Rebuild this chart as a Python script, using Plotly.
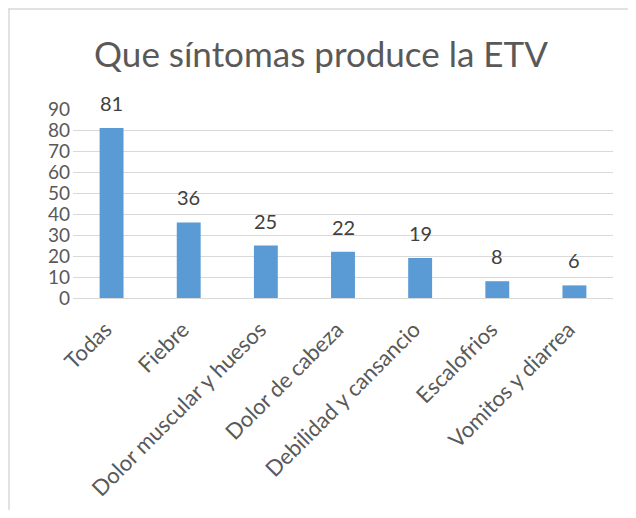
import plotly.graph_objects as go

categories = ["Todas", "Fiebre", "Dolor muscular y huesos", "Dolor de cabeza",
              "Debilidad y cansancio", "Escalofrios", "Vomitos y diarrea"]
values = [81, 36, 25, 22, 19, 8, 6]
y_ticks = [0, 10, 20, 30, 40, 50, 60, 70, 80, 90]
title_text = "Que síntomas produce la ETV"

FONT = "Lato, Open Sans, sans-serif"

fig = go.Figure(go.Bar(
    x=categories, y=values,
    marker=dict(color="#5B9BD5", line=dict(width=0)),
    width=0.31,
))

for c, v in zip(categories, values):
    fig.add_annotation(x=c, y=v, text=str(v), showarrow=False,
                       xanchor="center", yanchor="middle", yshift=25,
                       font=dict(family=FONT, size=20, color="#404040"))

# page body has an 8px default margin on every side: the figure is shrunk and
# shifted so that the page does not overflow the window
OFF = 8
W, H = 636 - 2 * OFF, 518 - 2 * OFF
L, T = 73 - OFF, 109 - OFF
R = W - (613 - OFF)
B = H - (298 - OFF)
pw, ph = W - L - R, H - T - B

fig.update_layout(
    width=W, height=H,
    margin=dict(l=L, r=R, t=T, b=B, pad=0, autoexpand=False),
    paper_bgcolor="white", plot_bgcolor="white",
    showlegend=False,
    title=dict(text=title_text, x=(321 - OFF) / W, xref="container", xanchor="center",
               y=1 - (55 - OFF) / H, yref="container", yanchor="middle",
               font=dict(family=FONT, size=35, color="#595959")),
    xaxis=dict(tickangle=-45, tickfont=dict(family=FONT, size=22, color="#595959"),
               showline=True, linecolor="#D9D9D9", linewidth=1, ticks="",
               ticklabelstandoff=9, ticklabelshift=-6,
               showgrid=False, automargin=False),
    yaxis=dict(range=[0, 90], tickvals=y_ticks, ticks="", showline=False,
               tickfont=dict(family=FONT, size=19, color="#595959"),
               ticklabelstandoff=2,
               gridcolor="#D9D9D9", gridwidth=1, zeroline=False, automargin=False),
    shapes=[
        dict(type="line", xref="paper", yref="paper",
             x0=(0 - L) / pw, x1=(W + 5 - L) / pw,
             y0=(H - B - 1) / ph, y1=(H - B - 1) / ph,
             line=dict(color="#D9D9D9", width=1.5)),
        dict(type="line", xref="paper", yref="paper",
             x0=(1 - L) / pw, x1=(1 - L) / pw,
             y0=(H - B - 1) / ph, y1=(H - B - H - 5) / ph,
             line=dict(color="#D9D9D9", width=1.5)),
    ],
)

fig.write_html("out.html")
